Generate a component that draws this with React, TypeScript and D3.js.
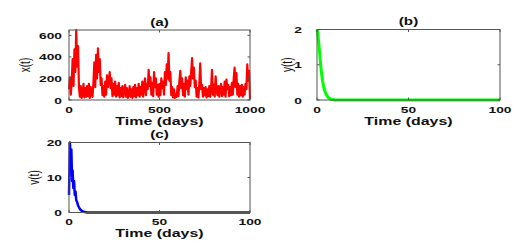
import React from "react";
import * as d3 from "d3";

// x(t) sampled every 5 days, 0..1000
const xDays = d3.range(0, 1001, 5);
const xValues = [
  100, 210, 50, 170, 380, 130, 470, 260, 650, 310,
  500, 120, 30, 130, 20, 50, 150, 25, 110, 30,
  130, 35, 150, 20, 120, 50, 30, 160, 350, 120,
  420, 200, 480, 260, 380, 140, 200, 45, 130, 30,
  170, 50, 230, 120, 180, 260, 110, 200, 35, 150,
  50, 170, 30, 130, 45, 160, 25, 110, 35, 130,
  25, 100, 140, 30, 110, 20, 50, 130, 30, 100,
  20, 120, 35, 140, 25, 110, 45, 150, 30, 120,
  50, 170, 30, 140, 200, 45, 150, 100, 280, 130,
  210, 50, 160, 35, 260, 120, 200, 50, 140, 30,
  150, 45, 200, 110, 170, 50, 260, 140, 330, 200,
  435, 180, 260, 45, 120, 25, 100, 20, 50, 30,
  130, 35, 180, 270, 110, 200, 45, 150, 30, 210,
  100, 180, 50, 220, 130, 260, 390, 200, 300, 120,
  180, 30, 110, 25, 150, 340, 100, 140, 30, 110,
  45, 120, 25, 100, 35, 130, 30, 110, 280, 50,
  140, 30, 220, 100, 45, 130, 30, 110, 150, 35,
  120, 50, 170, 30, 190, 100, 140, 35, 120, 45,
  160, 50, 200, 300, 120, 250, 50, 150, 30, 130,
  45, 140, 30, 120, 50, 150, 100, 330, 180, 270,
  10,
];

// y(t)
const yDays = [0, 0.3, 0.6, 1, 1.5, 2, 2.5, 3, 3.5, 4, 5, 6, 7, 8, 10, 20, 50, 100];
const yValues = [2, 1.95, 1.8, 1.6, 1.3, 1.0, 0.75, 0.56, 0.42, 0.3, 0.16, 0.08, 0.04, 0.015, 0, 0, 0, 0];

// v(t)
const vDays = [0, 0.5, 1, 1.3, 1.7, 2, 2.4, 2.8, 3.2, 3.6, 4, 4.5, 5, 5.5, 6, 7, 8, 10, 50, 100];
const vValues = [5, 20, 14, 18, 9, 12, 7, 9, 5, 6, 3.5, 3, 2, 1.5, 1, 0.5, 0.2, 0, 0, 0];

const xTicksA = [0, 500, 1000];
const yTicksA = [0, 200, 400, 600];
const xTicksB = [0, 50, 100];
const yTicksB = [0, 1, 2];
const yTicksC = [0, 10, 20];

const font = "'Liberation Sans', Arial, sans-serif";
const axisColor = "#555";
const sx = 1.45; // text in the reference is stretched horizontally

type PanelProps = {
  left: number; right: number; top: number; bottom: number;
  xDomain: [number, number]; yDomain: [number, number];
  xTicks: number[]; yTicks: number[];
  days: number[]; values: number[];
  color: string; width: number;
  title: string; ylabel: string; ylabelX: number; tickGap: number;
};

function Panel(p: PanelProps) {
  const x = d3.scaleLinear().domain(p.xDomain).range([p.left, p.right]);
  const y = d3.scaleLinear().domain(p.yDomain).range([p.bottom, p.top]);
  const line = d3.line<number>().x((_, i) => x(p.days[i])).y((d) => y(d));
  const tl = 2.5;
  const cx = (p.left + p.right) / 2;
  return (
    <g fontFamily={font} fontWeight="bold" fill="#111">
      <path d={line(p.values) || ""} fill="none" stroke={p.color} strokeWidth={p.width} strokeLinejoin="round" />
      <rect x={p.left} y={p.top} width={p.right - p.left} height={p.bottom - p.top} fill="none" stroke={axisColor} strokeWidth={1} />
      {p.xTicks.map((t) => (
        <g key={"x" + t}>
          <line x1={x(t)} x2={x(t)} y1={p.bottom} y2={p.bottom - tl} stroke={axisColor} />
          <line x1={x(t)} x2={x(t)} y1={p.top} y2={p.top + tl} stroke={axisColor} />
          <text transform={`translate(${x(t)},${p.bottom + 12.5}) scale(${sx},1)`} textAnchor="middle" fontSize={9.5}>{t}</text>
        </g>
      ))}
      {p.yTicks.map((t) => (
        <g key={"y" + t}>
          <line x1={p.left} x2={p.left + tl} y1={y(t)} y2={y(t)} stroke={axisColor} />
          <line x1={p.right} x2={p.right - tl} y1={y(t)} y2={y(t)} stroke={axisColor} />
          <text transform={`translate(${p.left - p.tickGap},${y(t) + 3.5}) scale(${sx},1)`} textAnchor="end" fontSize={9.5}>{t}</text>
        </g>
      ))}
      <text transform={`translate(${cx},${p.top - 4.5}) scale(${sx},1)`} textAnchor="middle" fontSize={10.5}>{p.title}</text>
      <text transform={`translate(${cx},${p.bottom + 24.5}) scale(${sx},1)`} textAnchor="middle" fontSize={11}>Time (days)</text>
      <text transform={`translate(${p.ylabelX},${(p.top + p.bottom) / 2}) scale(${sx},1) rotate(-90)`} textAnchor="middle" fontSize={10} fontWeight="normal">{p.ylabel}</text>
    </g>
  );
}

export default function App() {
  return (
    <svg width={529} height={244} style={{ position: "absolute", left: 0, top: 0, background: "#fff" }}>
      <Panel left={69} right={250} top={30} bottom={100} xDomain={[0, 1000]} yDomain={[0, 650]}
        xTicks={xTicksA} yTicks={yTicksA} days={xDays} values={xValues} color="#ff0000" width={2.2}
        title="(a)" ylabel="x(t)" ylabelX={30} tickGap={7} />
      <Panel left={317} right={500} top={29.5} bottom={100} xDomain={[0, 100]} yDomain={[0, 2]}
        xTicks={xTicksB} yTicks={yTicksB} days={yDays} values={yValues} color="#00ff00" width={3}
        title="(b)" ylabel="y(t)" ylabelX={291.5} tickGap={15} />
      <Panel left={69} right={250} top={142.5} bottom={212.5} xDomain={[0, 100]} yDomain={[0, 20]}
        xTicks={xTicksB} yTicks={yTicksC} days={vDays} values={vValues} color="#0000ff" width={2.5}
        title="(c)" ylabel="v(t)" ylabelX={38.5} tickGap={7} />
    </svg>
  );
}
